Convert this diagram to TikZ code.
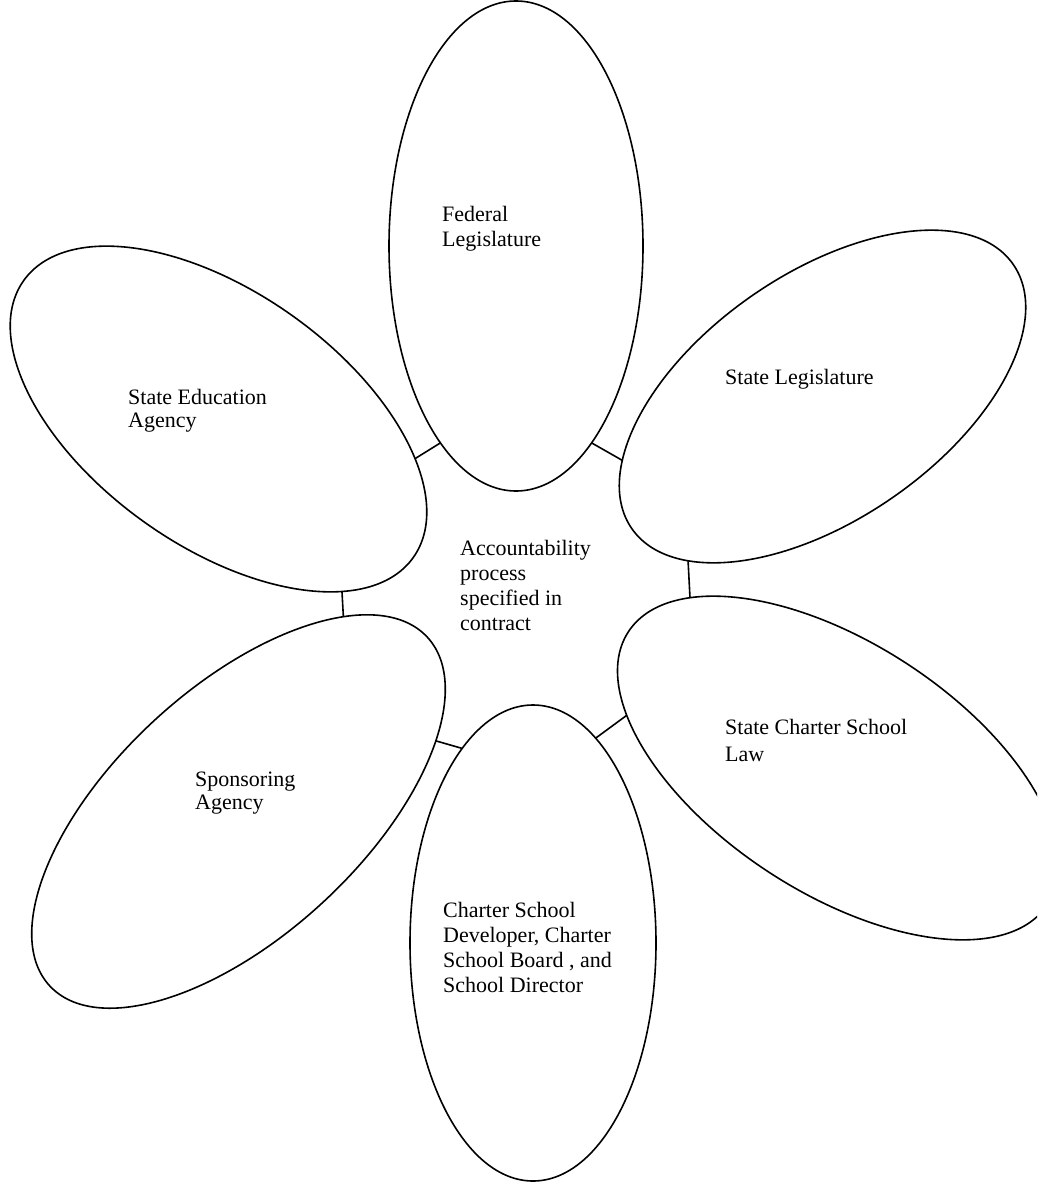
\documentclass[tikz,border=0pt]{standalone}
\usepackage{fontspec}
\setmainfont{Liberation Serif}
\usetikzlibrary{shapes.geometric}
\begin{document}
\begin{tikzpicture}[x=1pt,y=-1pt,
  petal/.style={draw=black, line width=1.6pt, ellipse, inner sep=0pt, outer sep=0pt},
  conn/.style={draw=black, line width=1.6pt},
  lbl/.style={anchor=north west, inner sep=0pt, align=left, font=\fontsize{22}{25}\selectfont},
  lbltight/.style={lbl, font=\fontsize{22}{23}\selectfont}]
\useasboundingbox (0,0) rectangle (1037,1185);
\fill[white] (0,0) rectangle (1037,1185);
\clip (0,0) rectangle (1037,1185);
% petals
\node[petal, minimum width=254pt, minimum height=490pt] (fed) at (516,246) {};
\node[petal, rotate=34.7, minimum width=464pt, minimum height=246pt] (sleg) at (822.5,396.5) {};
\node[petal, rotate=-35.4, minimum width=478pt, minimum height=254pt] (sea) at (218.5,419) {};
\node[petal, rotate=42.7, minimum width=514pt, minimum height=248pt] (spon) at (238.5,811.5) {};
\node[petal, minimum width=246pt, minimum height=476pt] (dev) at (533,943) {};
\node[petal, rotate=-33, minimum width=500pt, minimum height=250pt] (law) at (838,768) {};
% connectors
\draw[conn] (fed.249) -- (sea.24);
\draw[conn] (fed.291) -- (sleg.163);
\draw[conn] (sleg.196) -- (law.164);
\draw[conn] (law.199) -- (dev.73);
\draw[conn] (dev.110) -- (spon.337);
\draw[conn] (spon.19) -- (sea.341);
% labels
\node[lbl] (tfed) at (442,206.5) {Federal\\Legislature};
\node[lbl] (tsleg) at (725,369.5) {State Legislature};
\node[lbltight] (tsea) at (128,389.5) {State Education\\Agency};
\node[lbl] (tcenter) at (460,540.5) {Accountability\\process\\specified in\\contract};
\node[lbl, font=\fontsize{22}{27}\selectfont] (tlaw) at (725,719.5) {State Charter School\\Law};
\node[lbltight] (tspon) at (195,771.5) {Sponsoring\\Agency};
\node[lbl] (tdev) at (443,902.5) {Charter School\\Developer, Charter\\School Board , and\\School Director};
\end{tikzpicture}
\end{document}
